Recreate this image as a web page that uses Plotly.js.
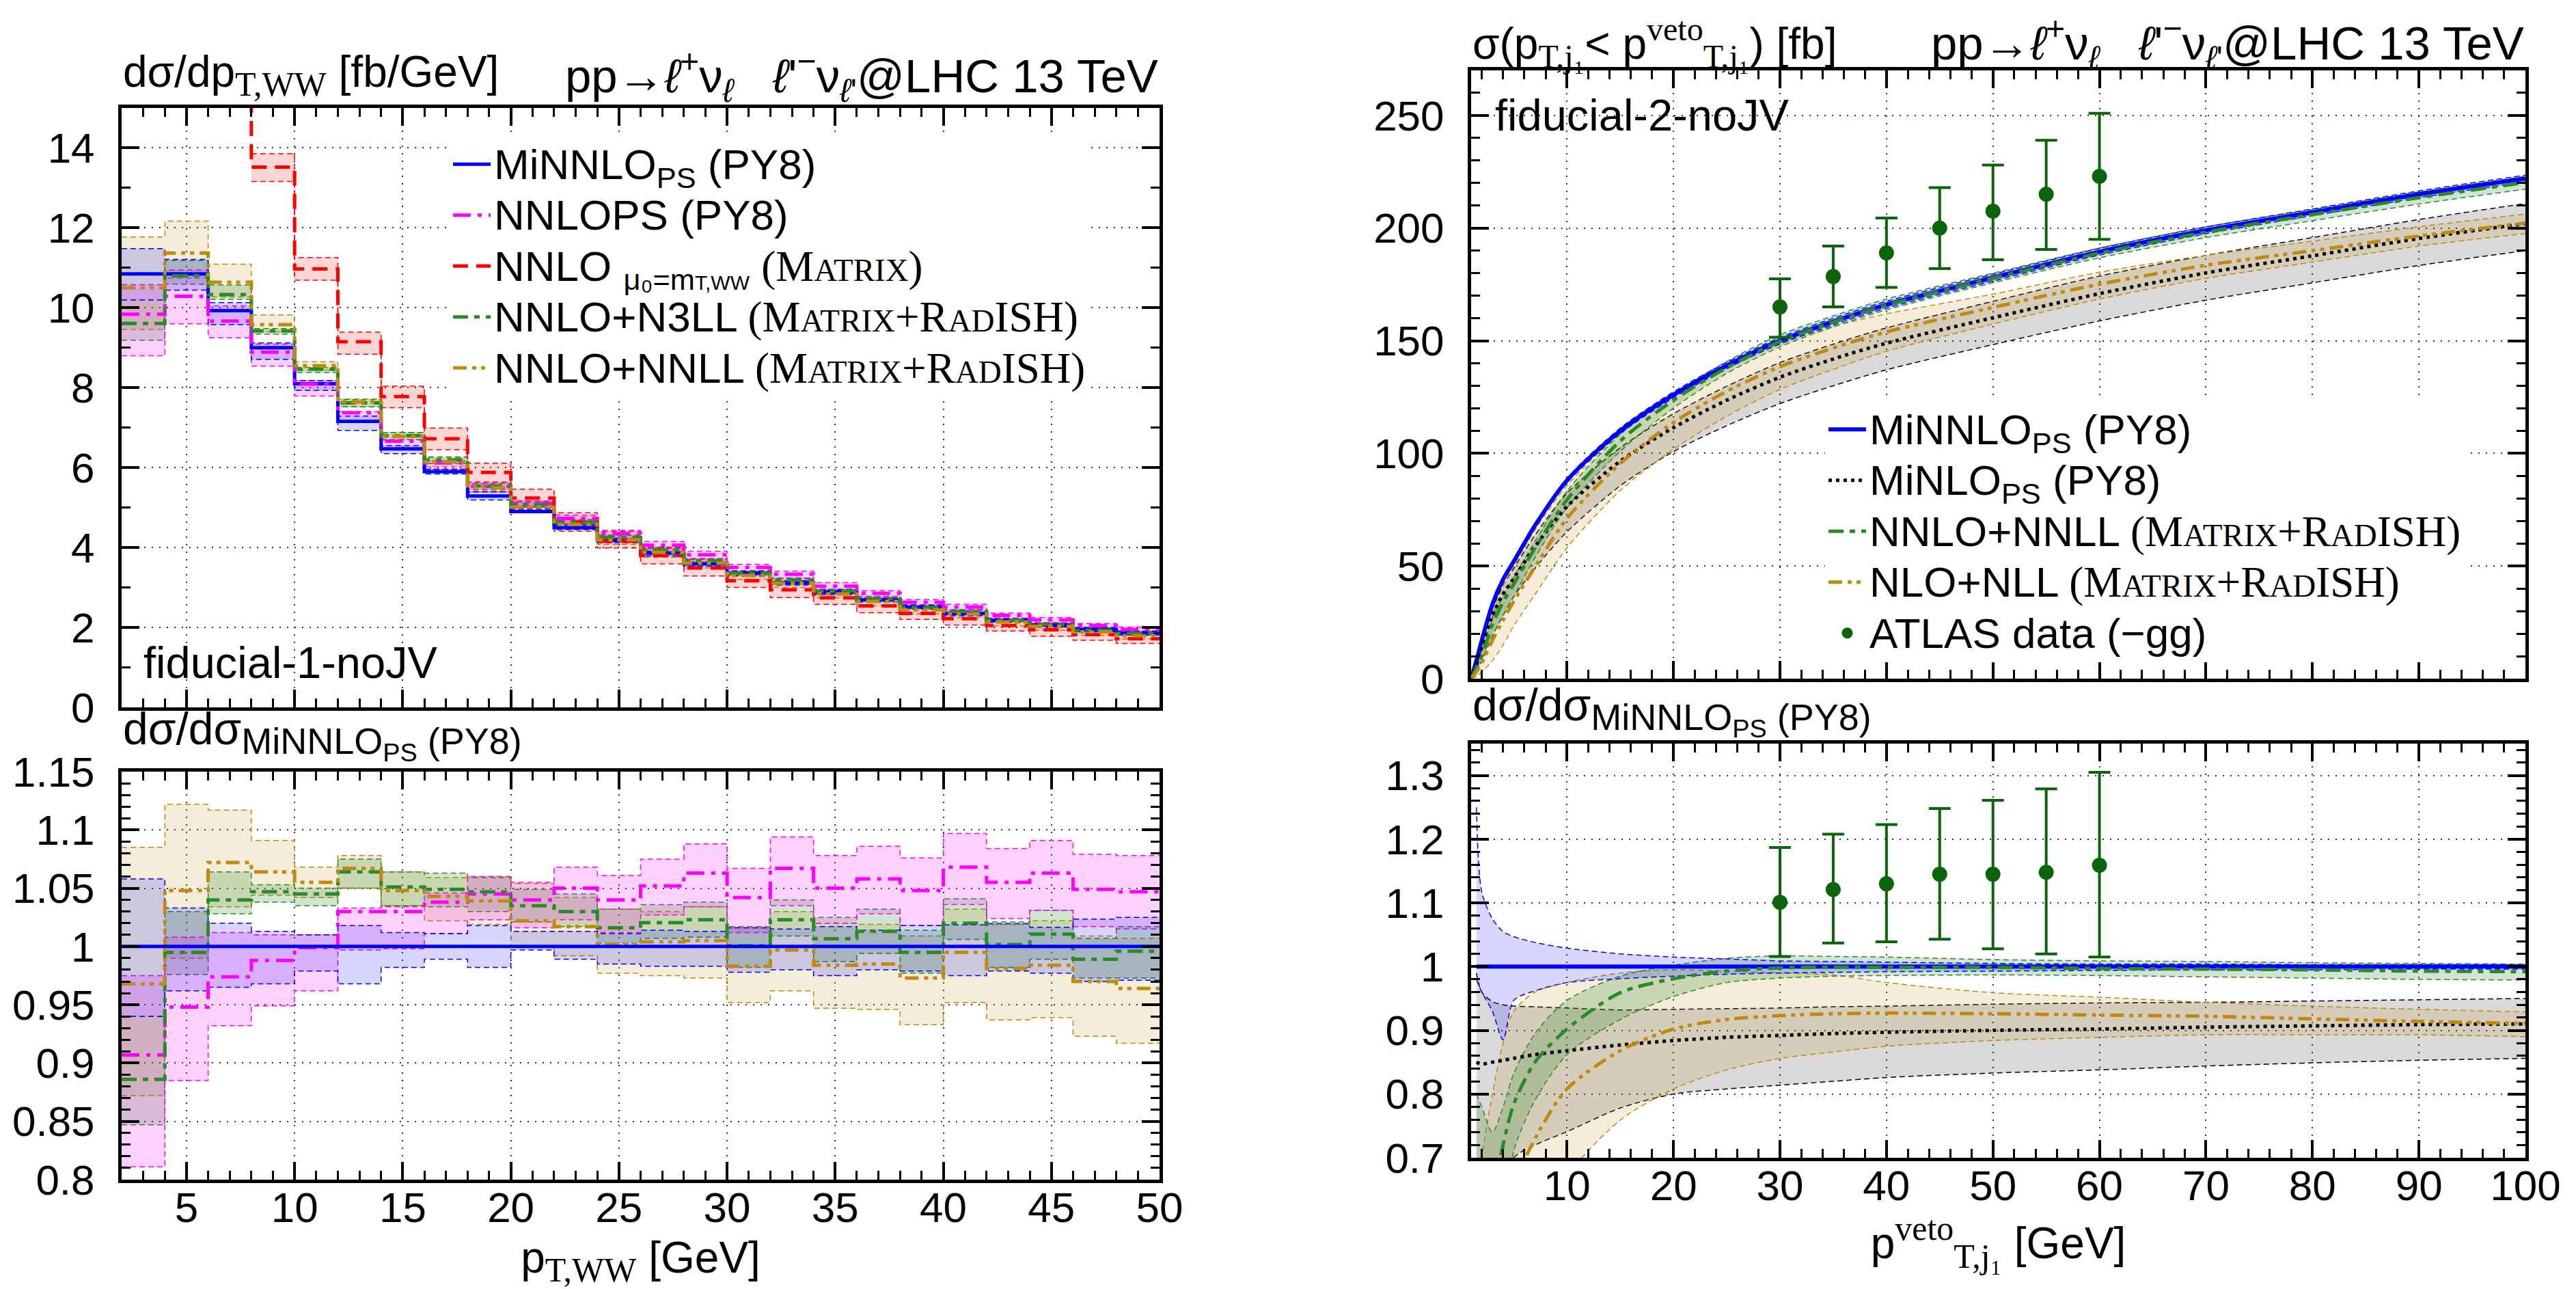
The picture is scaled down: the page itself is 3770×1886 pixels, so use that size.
<!DOCTYPE html>
<html><head><meta charset="utf-8">
<script src="https://cdn.plot.ly/plotly-3.0.1.min.js"></script>
<style>html,body{margin:0;padding:0;background:#fff}</style>
</head><body><div id="chart" style="width:3770px;height:1886px"></div>
<script>
// ===== Left panel: d sigma / d pT,WW, 2 GeV bins =====
const ptwwEdges = [2,4,6,8,10,12,14,16,18,20,22,24,26,28,30,32,34,36,38,40,42,44,46,48,50];

const minnloPt   = [10.85,10.85,9.93,9.00,8.10,7.16,6.47,5.90,5.29,4.90,4.50,4.18,3.86,3.59,3.36,3.12,2.89,2.69,2.51,2.35,2.18,2.06,1.95,1.86];
const minnloPtUp = [11.48,11.21,10.13,9.12,8.18,7.29,6.55,5.96,5.39,4.96,4.56,4.23,3.91,3.64,3.41,3.17,2.94,2.73,2.56,2.39,2.22,2.09,2.00,1.91];
const minnloPtLo = [10.20,10.44,9.58,8.71,7.93,6.93,6.35,5.84,5.19,4.89,4.45,4.12,3.79,3.53,3.29,3.06,2.82,2.64,2.46,2.29,2.13,2.01,1.89,1.81];

const nnlopsPt   = [9.84,10.29,9.67,8.89,8.09,7.37,6.66,6.12,5.53,5.10,4.73,4.35,4.06,3.82,3.50,3.33,3.03,2.85,2.63,2.51,2.30,2.19,2.05,1.95];
const nnlopsPtUp = [10.58,10.94,10.05,9.09,8.18,7.40,6.69,6.17,5.61,5.17,4.81,4.43,4.15,3.91,3.58,3.41,3.12,2.92,2.70,2.58,2.36,2.25,2.10,2.01];
const nnlopsPtLo = [8.80,9.60,9.25,8.54,7.79,7.14,6.46,5.96,5.41,4.98,4.60,4.23,3.96,3.71,3.40,3.23,2.95,2.77,2.56,2.43,2.23,2.12,1.98,1.89];

const nnloPt   = [null,null,16.5,13.52,10.97,9.15,7.78,6.72,5.88,5.24,4.64,4.16,3.80,3.49,3.17,2.94,2.74,2.54,2.35,2.22,2.05,1.94,1.82,1.72];
const nnloPtUp = [null,null,null,13.86,11.26,9.39,8.04,6.99,6.11,5.46,4.87,4.41,4.01,3.70,3.38,3.15,2.92,2.73,2.52,2.38,2.21,2.10,1.98,1.87];
const nnloPtLo = [null,null,null,13.16,10.69,8.84,7.50,6.45,5.64,5.01,4.41,3.99,3.59,3.29,3.00,2.75,2.58,2.37,2.20,2.06,1.91,1.78,1.68,1.60];

const n3llPt   = [9.61,10.80,10.33,9.42,8.46,7.62,6.80,6.19,5.54,5.07,4.64,4.25,3.94,3.67,3.36,3.19,2.91,2.72,2.50,2.40,2.18,2.08,1.93,1.85];
const n3llPtUp = [10.20,11.18,10.57,9.48,8.51,7.70,6.88,6.27,5.60,5.14,4.70,4.31,4.00,3.73,3.42,3.24,2.96,2.78,2.55,2.45,2.23,2.12,1.96,1.89];
const n3llPtLo = [9.19,10.59,10.21,9.34,8.38,7.52,6.70,6.10,5.45,5.00,4.58,4.19,3.89,3.62,3.30,3.15,2.85,2.67,2.45,2.36,2.14,2.04,1.90,1.81];

const nnllPt   = [10.50,11.37,10.64,9.58,8.55,7.64,6.78,6.15,5.50,5.01,4.58,4.19,3.88,3.61,3.30,3.11,2.84,2.65,2.44,2.34,2.14,2.03,1.89,1.79];
const nnllPtUp = [11.77,12.17,11.09,9.82,8.65,7.72,6.88,6.25,5.61,5.16,4.69,4.31,3.98,3.71,3.41,3.21,2.95,2.74,2.53,2.43,2.22,2.11,1.97,1.87];
const nnllPtLo = [9.46,10.74,10.27,9.40,8.44,7.52,6.70,6.03,5.39,4.90,4.46,4.08,3.76,3.49,3.20,3.00,2.74,2.54,2.34,2.24,2.04,1.93,1.80,1.71];

// ratio to MiNNLO_PS (left lower panel)
const minnloR   = [1,1,1,1,1,1,1,1,1,1,1,1,1,1,1,1,1,1,1,1,1,1,1,1];
const minnloRUp = [1.058,1.033,1.020,1.013,1.010,1.018,1.012,1.011,1.018,1.013,1.013,1.011,1.014,1.013,1.016,1.015,1.017,1.014,1.018,1.0185,1.0195,1.0165,1.0235,1.025];
const minnloRLo = [0.940,0.962,0.965,0.968,0.979,0.968,0.982,0.989,0.982,0.997,0.989,0.985,0.983,0.983,0.978,0.980,0.975,0.980,0.979,0.975,0.979,0.977,0.970,0.971];
const nnlopsR   = [0.907,0.948,0.974,0.988,0.999,1.030,1.030,1.038,1.045,1.040,1.050,1.040,1.052,1.063,1.042,1.067,1.050,1.058,1.048,1.068,1.055,1.063,1.049,1.047];
const nnlopsRUp = [0.975,1.008,1.012,1.010,1.010,1.033,1.034,1.046,1.060,1.055,1.068,1.061,1.075,1.088,1.067,1.094,1.078,1.086,1.076,1.097,1.084,1.091,1.079,1.078];
const nnlopsRLo = [0.811,0.885,0.932,0.949,0.962,0.997,0.998,1.011,1.023,1.016,1.023,1.012,1.027,1.034,1.012,1.035,1.020,1.028,1.018,1.036,1.024,1.031,1.017,1.015];
const n3llR   = [0.886,0.995,1.040,1.047,1.045,1.064,1.051,1.049,1.047,1.035,1.030,1.016,1.0205,1.023,1.0007,1.023,1.0066,1.013,0.995,1.020,1.0017,1.0106,0.989,0.996];
const n3llRUp = [0.940,1.030,1.064,1.053,1.050,1.075,1.064,1.063,1.059,1.049,1.045,1.032,1.036,1.038,1.017,1.040,1.025,1.032,1.014,1.041,1.021,1.031,1.007,1.017];
const n3llRLo = [0.847,0.976,1.028,1.038,1.035,1.050,1.035,1.034,1.030,1.021,1.017,1.003,1.007,1.008,0.982,1.009,0.987,0.994,0.977,1.006,0.982,0.989,0.973,0.973];
const nnllR   = [0.968,1.048,1.072,1.064,1.055,1.067,1.048,1.043,1.039,1.022,1.017,1.002,1.004,1.005,0.983,0.997,0.984,0.985,0.973,0.995,0.981,0.984,0.970,0.964];
const nnllRUp = [1.085,1.122,1.117,1.091,1.068,1.078,1.064,1.059,1.060,1.054,1.042,1.032,1.030,1.034,1.016,1.030,1.020,1.019,1.009,1.032,1.019,1.022,1.009,1.007];
const nnllRLo = [0.872,0.990,1.034,1.044,1.042,1.050,1.035,1.022,1.019,0.999,0.992,0.977,0.975,0.973,0.952,0.962,0.947,0.946,0.933,0.952,0.937,0.939,0.923,0.917];

// ===== Right panel: sigma(pT,j1 < pT veto) =====
const vetoPts = [1,1.5,2,3,4,5,7,10,15,20,25,30,35,40,50,60,70,80,90,100];
const minnloVeto   = [0,8,17,33,44,52,68,88,110,126,139,150,158.5,166,178,189.5,199,207,215,222];
const minnloVetoUp = [0,8.5,17.6,33.6,44.6,52.7,68.8,89,111.2,127.3,140.4,151.4,160,167.5,179.5,191,200.5,208.5,216.5,223.5];
const minnloVetoLo = [0,7.5,16.4,32.4,43.4,51.3,67.2,87,108.8,124.7,137.6,148.6,157,164.5,176.5,188,197.5,205.5,213.5,220.5];
const minloVeto   = [0,6,14,28,37.5,44.5,58.6,76.4,96.5,111.4,123.6,133.8,141.9,148.9,160.2,170.9,180.1,187.7,195.4,202];
const minloVetoUp = [0,7.5,16,31,41.4,48.9,63.7,82.3,102.5,117.6,129.8,140.3,148.5,155.7,167.5,178.7,187.9,195.8,203.8,210.9];
const minloVetoLo = [0,3,8,19,28,36.4,49,65.2,85.6,100.8,112.3,122.1,130,137.1,148.3,158.8,168,175.7,183.4,190];
const nnllVeto   = [0,5,10,24,34,42,58,79.4,105.5,123.6,138,149.7,158.3,165.8,177.8,188.9,198.2,206,213.5,220.2];
const nnllVetoUp = [0,6.5,13,27,37,45,61,83.3,108.4,126.3,140.8,152.6,161,168.5,180,191.2,200.6,208.2,216,222.9];
const nnllVetoLo = [0,3.5,7.5,19,28,36.4,53.7,75.9,100.9,120.1,135.5,147.3,156.1,163.7,175.7,186.8,195.8,203.3,210.7,217.3];
const nllVeto   = [0,3,7,17,26,34.3,49.6,71.1,95.5,113.7,127.5,138.5,146.8,153.9,164.8,175.1,183.5,190,196.5,202.2];
const nllVetoUp = [0,5,12,28,41,49.9,66,85.8,108.9,125.4,138,148.5,156.4,161.9,170.7,180.4,187.9,194.2,200.6,206.2];
const nllVetoLo = [0,1,3,8,15,23.4,37.4,58.1,83.5,101.8,116.5,128.4,137.3,145.3,157.4,168.5,177.7,184.9,192,197.6];

const atlasX  = [30,35,40,45,50,55,60];
const atlasY  = [165,178.5,189,200,207.5,215,223];
const atlasHi = [177.5,192,204.5,218,228,239,251];
const atlasLo = [151.5,165,173.7,182,186,190.5,195];

// ratio to MiNNLO_PS (right lower panel)
const ratioPts = [1.5,2,3,4,5,7,10,15,20,25,30,35,40,50,60,70,80,90,100];
const minnloVR   = [1,1,1,1,1,1,1,1,1,1,1,1,1,1,1,1,1,1,1];
const minnloVRUp = [1.25,1.117,1.075,1.055,1.047,1.038,1.029,1.02,1.015,1.012,1.009,1.008,1.007,1.005,1.004,1.004,1.003,1.003,1.003];
const minnloVRLo = [0.98,0.96,0.93,0.885,0.947,0.962,0.975,0.981,0.985,0.988,0.99,0.991,0.992,0.993,0.994,0.995,0.995,0.996,0.996];
const minloVR   = [0.85,0.847,0.85,0.853,0.856,0.862,0.868,0.877,0.884,0.889,0.892,0.895,0.897,0.9,0.902,0.905,0.907,0.909,0.91];
const minloVRUp = [0.99,0.96,0.945,0.94,0.938,0.937,0.935,0.932,0.933,0.934,0.935,0.937,0.938,0.941,0.943,0.944,0.946,0.948,0.95];
const minloVRLo = [0.5,0.55,0.6,0.65,0.7,0.72,0.741,0.778,0.80,0.808,0.814,0.82,0.826,0.833,0.838,0.844,0.849,0.853,0.856];
const nnllVR   = [0.45,0.5,0.64,0.72,0.784,0.85,0.902,0.959,0.981,0.993,0.998,0.999,0.999,0.999,0.997,0.996,0.995,0.993,0.992];
const nnllVRUp = [0.8,0.78,0.74,0.78,0.832,0.895,0.947,0.985,1.002,1.013,1.017,1.016,1.015,1.011,1.009,1.008,1.006,1.005,1.004];
const nnllVRLo = [0.3,0.35,0.45,0.58,0.71,0.79,0.862,0.917,0.953,0.975,0.982,0.985,0.986,0.987,0.986,0.984,0.982,0.98,0.979];
const nllVR   = [0.3,0.35,0.45,0.55,0.655,0.73,0.808,0.868,0.902,0.917,0.923,0.926,0.927,0.926,0.924,0.922,0.918,0.914,0.911];
const nllVRUp = [0.6,0.7,0.8,0.88,0.93,0.96,0.975,0.99,0.995,0.993,0.99,0.987,0.975,0.959,0.952,0.944,0.938,0.933,0.929];
const nllVRLo = [0.2,0.25,0.3,0.38,0.45,0.55,0.67,0.759,0.808,0.838,0.856,0.866,0.875,0.884,0.889,0.893,0.893,0.893,0.89];

const atlasRX  = [30,35,40,45,50,55,60];
const atlasR   = [1.101,1.121,1.130,1.145,1.145,1.148,1.159];
const atlasRHi = [1.187,1.208,1.223,1.248,1.261,1.279,1.305];
const atlasRLo = [1.016,1.037,1.039,1.043,1.028,1.020,1.015];

// tick labels
const ptTicks = [5,10,15,20,25,30,35,40,45,50];
const ptYTicks = [0,2,4,6,8,10,12,14];
const ratioLTicks = [0.8,0.85,0.9,0.95,1,1.05,1.1,1.15];
const vetoTicks = [10,20,30,40,50,60,70,80,90,100];
const vetoYTicks = [0,50,100,150,200,250];
const ratioRTicks = [0.7,0.8,0.9,1,1.1,1.2,1.3];

// ===== styling =====
const SANS = 'Liberation Sans, Arial, Helvetica, sans-serif';
const SERIF = 'Liberation Serif, Times New Roman, serif';
const C = {blue:'#0000ff', mag:'#ff00ff', red:'#ff0000', green:'#2a8a2a', gold:'#c08a10', black:'#000000', atlas:'#0a640a'};
const F = {blue:'rgba(0,0,255,0.16)', mag:'rgba(255,0,255,0.18)', red:'rgba(255,0,0,0.16)',
           green:'rgba(42,138,42,0.22)', gold:'rgba(192,138,16,0.16)', black:'rgba(0,0,0,0.15)'};
const D = {solid:'solid', red:'22px,12px', mag:'26px,10px,6px,10px', green:'22px,9px,8px,9px',
           gold:'20px,8px,6px,7px,6px,8px', black:'5px,6px', edge:'8px,5px'};

const big = s => '<span style="font-size:62px">' + s + '</span>';
const MR = '<span style="font-family:' + SERIF + ';font-size:63px">(M<span style="font-size:47px">ATRIX</span>+R<span style="font-size:47px">AD</span>ISH)</span>';
const MX = '<span style="font-family:' + SERIF + ';font-size:63px">(M<span style="font-size:47px">ATRIX</span>)</span>';

const data = [];
function stepXY(edges, vals) {
  const i0 = vals.findIndex(v => v !== null);
  const x = edges.slice(i0);
  const y = vals.slice(i0);
  y.push(y[y.length - 1]);
  return {x, y};
}
function stepBand(xa, ya, lo, hi, color, fill) {
  const a = stepXY(ptwwEdges, lo), b = stepXY(ptwwEdges, hi);
  data.push({type:'scatter', mode:'lines', xaxis:xa, yaxis:ya, x:a.x, y:a.y, showlegend:false, hoverinfo:'skip',
             line:{color:color, width:1.5, dash:D.edge, shape:'hv'}});
  data.push({type:'scatter', mode:'lines', xaxis:xa, yaxis:ya, x:b.x, y:b.y, showlegend:false, hoverinfo:'skip',
             fill:'tonexty', fillcolor:fill, line:{color:color, width:1.5, dash:D.edge, shape:'hv'}});
}
function stepLine(xa, ya, vals, color, dash, name, rank, legend) {
  const a = stepXY(ptwwEdges, vals);
  data.push({type:'scatter', mode:'lines', xaxis:xa, yaxis:ya, x:a.x, y:a.y, name:name,
             showlegend:!!name, legend:legend, legendrank:rank, hoverinfo:'skip',
             line:{color:color, width:5, dash:dash, shape:'hv'}});
}
function curveBand(xa, ya, xs, lo, hi, color, fill) {
  data.push({type:'scatter', mode:'lines', xaxis:xa, yaxis:ya, x:xs, y:lo, showlegend:false, hoverinfo:'skip',
             line:{color:color, width:1.5, dash:D.edge, shape:'spline', smoothing:0.8}});
  data.push({type:'scatter', mode:'lines', xaxis:xa, yaxis:ya, x:xs, y:hi, showlegend:false, hoverinfo:'skip',
             fill:'tonexty', fillcolor:fill, line:{color:color, width:1.5, dash:D.edge, shape:'spline', smoothing:0.8}});
}
function curveLine(xa, ya, xs, vals, color, dash, name, rank, legend, width) {
  data.push({type:'scatter', mode:'lines', xaxis:xa, yaxis:ya, x:xs, y:vals, name:name,
             showlegend:!!name, legend:legend, legendrank:rank, hoverinfo:'skip',
             line:{color:color, width:width || 5, dash:dash, shape:'spline', smoothing:0.8}});
}
function atlas(xa, ya, xs, ys, hi, lo, name, legend) {
  data.push({type:'scatter', mode:'markers', xaxis:xa, yaxis:ya, x:xs, y:ys, name:name,
             showlegend:!!name, legend:legend, legendrank:5, hoverinfo:'skip',
             marker:{color:C.atlas, size:22, symbol:'circle'},
             error_y:{type:'data', symmetric:false, array:hi.map((h,i)=>h-ys[i]), arrayminus:lo.map((l,i)=>ys[i]-l),
                      color:C.atlas, thickness:4, width:16}});
}

// left top
stepBand('x','y', nnllPtLo, nnllPtUp, C.gold, F.gold);
stepBand('x','y', n3llPtLo, n3llPtUp, C.green, F.green);
stepBand('x','y', nnloPtLo, nnloPtUp, C.red, F.red);
stepBand('x','y', nnlopsPtLo, nnlopsPtUp, C.mag, F.mag);
stepBand('x','y', minnloPtLo, minnloPtUp, C.blue, F.blue);
stepLine('x','y', minnloPt, C.blue, D.solid, big('MiNNLO<sub>PS</sub> (PY8)'), 1, 'legend');
stepLine('x','y', nnlopsPt, C.mag, D.mag, big('NNLOPS (PY8)'), 2, 'legend');
stepLine('x','y', nnloPt, C.red, D.red, big('NNLO <sub>μ₀=m<span style="font-size:30px">T,WW</span></sub> ') + MX, 3, 'legend');
stepLine('x','y', n3llPt, C.green, D.green, big('NNLO+N3LL ') + MR, 4, 'legend');
stepLine('x','y', nnllPt, C.gold, D.gold, big('NNLO+NNLL ') + MR, 5, 'legend');

// left bottom (ratio)
stepBand('x2','y2', nnllRLo, nnllRUp, C.gold, F.gold);
stepBand('x2','y2', n3llRLo, n3llRUp, C.green, F.green);
stepBand('x2','y2', nnlopsRLo, nnlopsRUp, C.mag, F.mag);
stepBand('x2','y2', minnloRLo, minnloRUp, C.blue, F.blue);
stepLine('x2','y2', nnlopsR, C.mag, D.mag);
stepLine('x2','y2', n3llR, C.green, D.green);
stepLine('x2','y2', nnllR, C.gold, D.gold);
stepLine('x2','y2', minnloR, C.blue, D.solid);

// right top
curveBand('x3','y3', vetoPts, minloVetoLo, minloVetoUp, C.black, F.black);
curveBand('x3','y3', vetoPts, nllVetoLo, nllVetoUp, C.gold, F.gold);
curveBand('x3','y3', vetoPts, nnllVetoLo, nnllVetoUp, C.green, F.green);
curveBand('x3','y3', vetoPts, minnloVetoLo, minnloVetoUp, C.blue, F.blue);
curveLine('x3','y3', vetoPts, minnloVeto, C.blue, D.solid, big('MiNNLO<sub>PS</sub> (PY8)'), 1, 'legend2', 6);
curveLine('x3','y3', vetoPts, minloVeto, C.black, D.black, big('MiNLO<sub>PS</sub> (PY8)'), 2, 'legend2');
curveLine('x3','y3', vetoPts, nnllVeto, C.green, D.green, big('NNLO+NNLL ') + MR, 3, 'legend2');
curveLine('x3','y3', vetoPts, nllVeto, C.gold, D.gold, big('NLO+NLL ') + MR, 4, 'legend2');
atlas('x3','y3', atlasX, atlasY, atlasHi, atlasLo, big('ATLAS data (−gg)'), 'legend2');

// right bottom (ratio)
curveBand('x4','y4', ratioPts, minloVRLo, minloVRUp, C.black, F.black);
curveBand('x4','y4', ratioPts, nllVRLo, nllVRUp, C.gold, F.gold);
curveBand('x4','y4', ratioPts, nnllVRLo, nnllVRUp, C.green, F.green);
curveBand('x4','y4', ratioPts, minnloVRLo, minnloVRUp, C.blue, F.blue);
curveLine('x4','y4', ratioPts, minnloVR, C.blue, D.solid, null, 0, undefined, 6);
curveLine('x4','y4', ratioPts, minloVR, C.black, D.black);
curveLine('x4','y4', ratioPts, nnllVR, C.green, D.green);
curveLine('x4','y4', ratioPts, nllVR, C.gold, D.gold);
atlas('x4','y4', atlasRX, atlasR, atlasRHi, atlasRLo);

// ===== layout =====
const W = 3770, H = 1886;
const px = v => v / W, py = v => 1 - v / H;
const minorTicks = (dt, t0) => ({ticks:'inside', ticklen:13, tickwidth:3, tickcolor:'#000', dtick:dt, tick0:t0, showgrid:false});
function ax(extra) {
  return Object.assign({
    showline:true, linewidth:5, linecolor:'#000', mirror:'allticks',
    ticks:'inside', ticklen:26, tickwidth:4, tickcolor:'#000',
    showgrid:true, gridcolor:'#333', gridwidth:2, griddash:'2px,9px',
    zeroline:false, fixedrange:true,
    tickfont:{family:SANS, size:62, color:'#000'},
  }, extra);
}
const tfmt = a => a.map(v => String(v));
const proc = 'pp→<i>ℓ</i><sup>+</sup>ν<sub><i>ℓ</i></sub>&nbsp;&nbsp;&nbsp;<i>ℓ</i>\'<sup>−</sup>ν<sub><i>ℓ</i>\'</sub>@LHC 13 TeV';
const ratioLabel = 'dσ/dσ<sub><span style="font-size:54px">MiNNLO<sub>PS</sub> (PY8)</span></sub>';

const layout = {
  width:W, height:H, paper_bgcolor:'#fff', plot_bgcolor:'#fff',
  margin:{l:0, r:0, t:0, b:0, pad:0},
  font:{family:SANS, size:62, color:'#000'},
  showlegend:true,
  xaxis: ax({domain:[px(178), px(1697)], range:[2,50], anchor:'y', tickvals:ptTicks, showticklabels:false, minor:minorTicks(1,0)}),
  yaxis: ax({domain:[py(1035), py(158)], range:[0,15], anchor:'x', tickvals:ptYTicks, ticktext:tfmt(ptYTicks),
             ticklabelstandoff:22, minor:minorTicks(1,0)}),
  xaxis2: ax({domain:[px(178), px(1697)], range:[2,50], anchor:'y2', tickvals:ptTicks, ticktext:tfmt(ptTicks),
              ticklabelstandoff:-17,
              title:{text:'p<sub><span style="font-family:' + SERIF + ';font-size:50px">T,WW</span></sub> [GeV]', font:{size:64}, standoff:52},
              minor:minorTicks(1,0)}),
  yaxis2: ax({domain:[py(1726), py(1129)], range:[0.8,1.15], anchor:'x2', tickvals:ratioLTicks, ticktext:tfmt(ratioLTicks),
              ticklabelstandoff:22, minor:minorTicks(0.01,0.8)}),
  xaxis3: ax({domain:[px(2153), px(3696)], range:[1,100], anchor:'y3', tickvals:vetoTicks, showticklabels:false, minor:minorTicks(2,0)}),
  yaxis3: ax({domain:[py(993), py(103)], range:[0,270], anchor:'x3', tickvals:vetoYTicks, ticktext:tfmt(vetoYTicks),
              ticklabelstandoff:22, minor:minorTicks(10,0)}),
  xaxis4: ax({domain:[px(2153), px(3696)], range:[1,100], anchor:'y4', tickvals:vetoTicks, ticktext:tfmt(vetoTicks),
              ticklabelstandoff:-17,
              title:{text:'p<sup><span style="font-family:' + SERIF + ';font-size:50px">veto</span></sup><sub><span style="font-family:' + SERIF + ';font-size:50px">T,j₁</span></sub> [GeV]', font:{size:64}, standoff:24},
              minor:minorTicks(2,0)}),
  yaxis4: ax({domain:[py(1694), py(1088)], range:[0.7,1.35], anchor:'x4', tickvals:ratioRTicks, ticktext:tfmt(ratioRTicks),
              ticklabelstandoff:22, minor:minorTicks(0.02,0.7)}),
  legend:{x:px(658), y:py(198), xanchor:'left', yanchor:'top', bgcolor:'#fff', borderwidth:0,
          font:{family:SANS, size:55, color:'#000'}, itemwidth:55, traceorder:'normal', tracegroupgap:0},
  legend2:{x:px(2671), y:py(586), xanchor:'left', yanchor:'top', bgcolor:'#fff', borderwidth:0,
          font:{family:SANS, size:55, color:'#000'}, itemwidth:55, traceorder:'normal', tracegroupgap:0},
  annotations:[
    {xref:'paper', yref:'paper', x:px(178), y:py(110), xanchor:'left', yanchor:'middle', showarrow:false,
     text:'dσ/dp<sub><span style="font-family:' + SERIF + ';font-size:50px">T,WW</span></sub> [fb/GeV]', font:{size:64}},
    {xref:'paper', yref:'paper', x:px(1697), y:py(110), xanchor:'right', yanchor:'middle', showarrow:false,
     text:proc, font:{size:69}},
    {xref:'paper', yref:'paper', x:px(208), y:py(969), xanchor:'left', yanchor:'middle', showarrow:false,
     text:'fiducial-1-noJV', font:{size:65}},
    {xref:'paper', yref:'paper', x:px(178), y:py(1075), xanchor:'left', yanchor:'middle', showarrow:false,
     text:ratioLabel, font:{size:66}},
    {xref:'paper', yref:'paper', x:px(2153), y:py(63), xanchor:'left', yanchor:'middle', showarrow:false,
     text:'σ(p<sub><span style="font-family:' + SERIF + ';font-size:48px">T,j₁</span></sub>&lt; p<sup><span style="font-family:' + SERIF + ';font-size:48px">veto</span></sup><sub><span style="font-family:' + SERIF + ';font-size:48px">T,j₁</span></sub>) [fb]', font:{size:64}},
    {xref:'paper', yref:'paper', x:px(3696), y:py(63), xanchor:'right', yanchor:'middle', showarrow:false,
     text:proc, font:{size:69}},
    {xref:'paper', yref:'paper', x:px(2186), y:py(169), xanchor:'left', yanchor:'middle', showarrow:false,
     text:'fiducial-2-noJV', font:{size:65}},
    {xref:'paper', yref:'paper', x:px(2153), y:py(1040), xanchor:'left', yanchor:'middle', showarrow:false,
     text:ratioLabel, font:{size:66}}
  ]
};

Plotly.newPlot('chart', data, layout, {staticPlot:true, displayModeBar:false});
</script></body></html>
